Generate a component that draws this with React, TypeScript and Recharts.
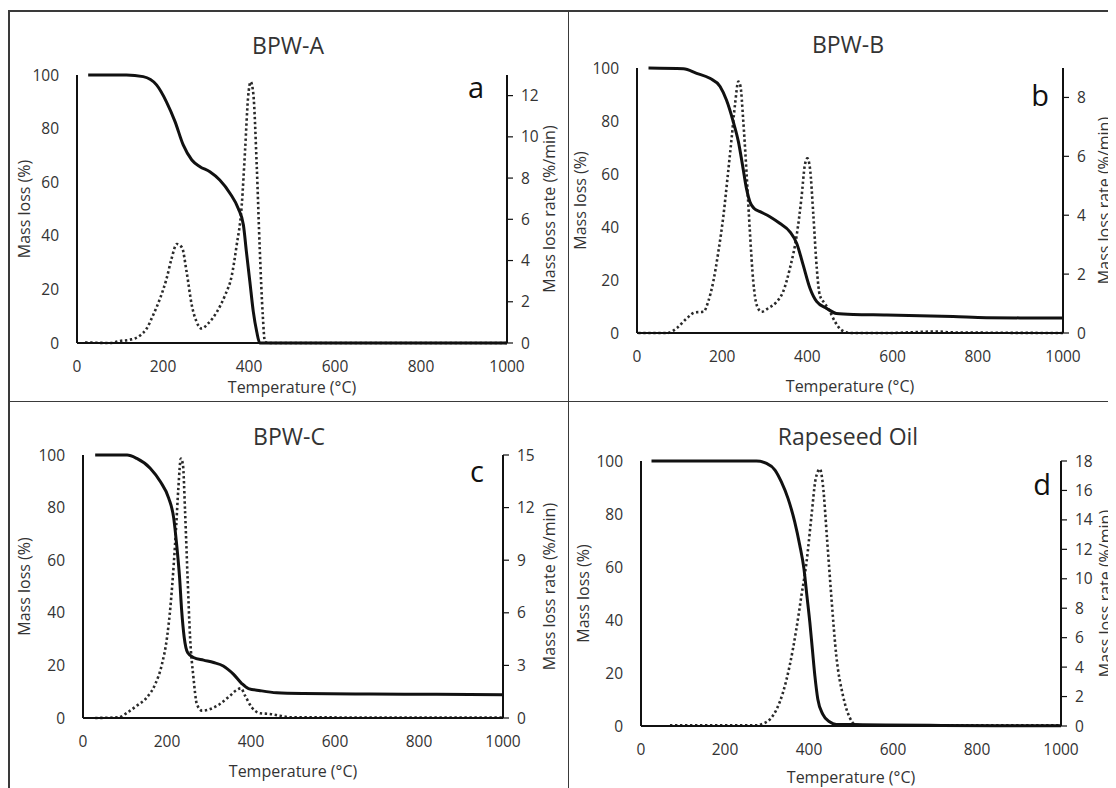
import React from 'react';
import { LineChart, Line, XAxis, YAxis } from 'recharts';

const FONT = '"Open Sans", "DejaVu Sans", sans-serif';
const TXT = '#333333';
const INK = '#111111';

const TEMP_TICKS = [0, 200, 400, 600, 800, 1000];
const MASS_TICKS = [0, 20, 40, 60, 80, 100];
const TITLES = ['BPW-A', 'BPW-B', 'BPW-C', 'Rapeseed Oil'];
const LETTERS = ['a', 'b', 'c', 'd'];
const X_LABEL = 'Temperature (°C)';
const Y_LEFT_LABEL = 'Mass loss (%)';
const Y_RIGHT_LABEL = 'Mass loss rate (%/min)';

const RATE_TICKS_A = [0, 2, 4, 6, 8, 10, 12];
const RATE_TICKS_B = [0, 2, 4, 6, 8];
const RATE_TICKS_C = [0, 3, 6, 9, 12, 15];
const RATE_TICKS_D = [0, 2, 4, 6, 8, 10, 12, 14, 16, 18];
const RATE_MAX = [13, 9, 15, 18];

// Panel a – BPW-A
const aTgTemp = [26, 115, 154, 185, 208, 228, 247, 267, 286, 309, 332, 356, 375, 387, 394, 402, 410, 418, 425, 500, 1000];
const aTgMass = [100, 100, 99.4, 96.3, 90, 82.6, 73.9, 68.3, 65.8, 63.9, 60.8, 55.8, 50.2, 44, 34, 22.9, 11.7, 4.2, 0, 0, 0];
const aDtgTemp = [19, 77, 100, 123, 146, 162, 177, 193, 208, 220, 232, 244, 255, 267, 278, 290, 305, 325, 344, 360, 371, 383, 391, 398, 404, 410, 418, 425, 432, 437, 445, 1000];
const aDtgRate = [0.03, 0, 0.1, 0.16, 0.35, 0.7, 1.35, 2.15, 3.1, 4.1, 4.8, 4.64, 3.44, 1.83, 1.03, 0.7, 0.95, 1.5, 2.3, 3.28, 4.7, 6.65, 9.4, 11.95, 12.67, 12.1, 8.6, 4.56, 1.35, 0.06, 0, 0];

// Panel b – BPW-B
const bTgTemp = [27, 109, 140, 171, 195, 210, 226, 238, 249, 257, 265, 275, 289, 312, 335, 359, 375, 390, 406, 422, 445, 468, 508, 586, 664, 742, 820, 899, 1000];
const bTgMass = [100, 99.7, 98, 96.1, 93, 87.9, 79.7, 72.2, 62.1, 54.5, 49.5, 47.0, 45.8, 43.9, 41.4, 38.2, 33.8, 25.7, 16.9, 11.8, 9.3, 7.4, 7.0, 6.8, 6.5, 6.2, 5.8, 5.7, 5.7];
const bDtgTemp = [3, 70, 93, 117, 136, 156, 167, 179, 191, 203, 214, 222, 230, 238, 243, 249, 257, 265, 273, 281, 292, 308, 328, 343, 359, 375, 386, 394, 400, 406, 414, 422, 429, 441, 453, 465, 480, 500, 586, 703, 742, 1000];
const bDtgRate = [0, 0, 0.16, 0.5, 0.7, 0.72, 1.06, 1.74, 2.76, 4.0, 5.48, 6.6, 7.75, 8.54, 8.37, 7.3, 5.48, 3.44, 1.74, 0.95, 0.72, 0.84, 1.06, 1.4, 2.2, 3.33, 4.58, 5.7, 5.93, 5.6, 4.0, 2.2, 1.29, 1.0, 0.72, 0.38, 0.1, 0, 0, 0.05, 0.02, 0];

// Panel c – BPW-C
const cTgTemp = [29, 105, 128, 160, 184, 204, 216, 223, 230, 235, 241, 249, 263, 287, 311, 334, 358, 378, 394, 422, 461, 525, 683, 841, 1000];
const cTgMass = [100, 100, 98.7, 95, 89.9, 83.6, 76, 65.9, 53.3, 40.7, 30.6, 24.9, 23, 22, 21.1, 19.8, 16.7, 13.1, 11.2, 10.4, 9.6, 9.3, 9.1, 9.0, 8.8];
const cDtgTemp = [29, 85, 105, 128, 152, 172, 188, 200, 208, 216, 222, 227, 233, 238, 243, 249, 255, 263, 271, 283, 303, 326, 350, 366, 376, 386, 402, 422, 445, 469, 493, 1000];
const cDtgRate = [0, 0.04, 0.3, 0.7, 1.17, 1.93, 3.07, 4.58, 6.3, 8.75, 11.0, 13.1, 14.8, 14.43, 11.8, 8.0, 4.58, 2.31, 0.8, 0.42, 0.51, 0.8, 1.27, 1.6, 1.69, 1.27, 0.6, 0.27, 0.23, 0.13, 0.04, 0.02];

// Panel d – Rapeseed Oil
const dTgTemp = [25, 275, 299, 319, 334, 350, 366, 378, 388, 395, 402, 408, 414, 421, 433, 449, 465, 528, 687, 846, 1000];
const dTgMass = [100, 100, 99.1, 96.6, 92.2, 85.9, 77, 68.2, 59.3, 49.2, 39.1, 29, 18.9, 10.1, 4.4, 1.6, 0.6, 0.5, 0.25, 0.1, 0.1];
const dDtgTemp = [69, 275, 291, 307, 323, 338, 354, 370, 382, 394, 406, 416, 426, 433, 443, 453, 465, 481, 497, 509, 528, 1000];
const dDtgRate = [0.05, 0.05, 0.16, 0.45, 1.14, 2.27, 4.1, 6.6, 8.86, 11.1, 14.3, 16.8, 17.45, 16.4, 12.7, 8.86, 4.77, 2.05, 0.57, 0.11, 0.05, 0.05];

const zip = (ts: number[], vs: number[]) => ts.map((t, i) => ({ t, v: vs[i] }));

const LW = 50;
const RW = 50;
const XH = 30;

type Geo = {
  left: number; top: number; w: number; h: number;
  pl: number; pr: number; pt: number; pb: number;
  title: [number, number]; letter: [number, number];
  xlab: number; ylx: number; yrx: number;
};

const GEO: Geo[] = [
  { left: 0, top: 3, w: 560, h: 390, pl: 69, pr: 499, pt: 64, pb: 332, title: [280, 43], letter: [468, 87], xlab: 382, ylx: 16, yrx: 541 },
  { left: 560, top: 3, w: 548, h: 390, pl: 69, pr: 495, pt: 57, pb: 322, title: [280, 42], letter: [472, 95], xlab: 381, ylx: 12, yrx: 536 },
  { left: 0, top: 393, w: 560, h: 387, pl: 75, pr: 495, pt: 54, pb: 317, title: [281, 44], letter: [469, 81], xlab: 376, ylx: 16, yrx: 541 },
  { left: 560, top: 393, w: 548, h: 387, pl: 73, pr: 493, pt: 60, pb: 325, title: [280, 44], letter: [474, 94], xlab: 382, ylx: 15, yrx: 537 },
];

const TG = [zip(aTgTemp, aTgMass), zip(bTgTemp, bTgMass), zip(cTgTemp, cTgMass), zip(dTgTemp, dTgMass)];
const DTG = [zip(aDtgTemp, aDtgRate), zip(bDtgTemp, bDtgRate), zip(cDtgTemp, cDtgRate), zip(dDtgTemp, dDtgRate)];
const RATE_TICKS = [RATE_TICKS_A, RATE_TICKS_B, RATE_TICKS_C, RATE_TICKS_D];

const tickStyle = { fontSize: 15.5, fill: TXT, fontFamily: FONT };

function Panel({ i }: { i: number }) {
  const g = GEO[i];
  const margin = {
    top: g.pt,
    left: g.pl - LW,
    right: g.w - g.pr - RW,
    bottom: g.h - g.pb - XH,
  };
  const cx = (g.pl + g.pr) / 2;
  const cy = (g.pt + g.pb) / 2;
  return (
    <div style={{ position: 'absolute', left: g.left, top: g.top }}>
      <LineChart width={g.w} height={g.h} margin={margin}>
        <XAxis
          type="number"
          dataKey="t"
          domain={[0, 1000]}
          ticks={TEMP_TICKS}
          interval={0}
          tickLine={false}
          axisLine={{ stroke: INK, strokeWidth: 2 }}
          tick={tickStyle}
          tickMargin={12}
          height={XH}
        />
        <YAxis
          yAxisId="m"
          type="number"
          domain={[0, 100]}
          ticks={MASS_TICKS}
          interval={0}
          tickLine={false}
          axisLine={{ stroke: INK, strokeWidth: 2 }}
          tick={tickStyle}
          tickMargin={12}
          width={LW}
        />
        <YAxis
          yAxisId="r"
          orientation="right"
          type="number"
          domain={[0, RATE_MAX[i]]}
          ticks={RATE_TICKS[i]}
          interval={0}
          tickLine={{ stroke: INK, strokeWidth: 1.2 }}
          tickSize={6}
          axisLine={{ stroke: INK, strokeWidth: 2 }}
          tick={{ ...tickStyle, textAnchor: 'start' }}
          tickMargin={8}
          width={RW}
        />
        <Line
          yAxisId="r"
          data={DTG[i]}
          dataKey="v"
          type="monotone"
          stroke="#2a2a2a"
          strokeWidth={2.6}
          strokeDasharray="2.4 2.6"
          dot={false}
          activeDot={false}
          isAnimationActive={false}
        />
        <Line
          yAxisId="m"
          data={TG[i]}
          dataKey="v"
          type="monotone"
          stroke={INK}
          strokeWidth={3}
          dot={false}
          activeDot={false}
          isAnimationActive={false}
        />
        <text x={g.title[0]} y={g.title[1]} textAnchor="middle" fontSize={23} fill={TXT} fontFamily={FONT}>
          {TITLES[i]}
        </text>
        <text x={g.letter[0]} y={g.letter[1]} textAnchor="middle" fontSize={29} fill={INK} fontFamily={FONT}>
          {LETTERS[i]}
        </text>
        <text x={cx} y={g.xlab} textAnchor="middle" fontSize={16} fill={TXT} fontFamily={FONT}>
          {X_LABEL}
        </text>
        <text
          x={g.ylx}
          y={cy}
          textAnchor="middle"
          dominantBaseline="central"
          transform={`rotate(-90 ${g.ylx} ${cy})`}
          fontSize={16}
          fill={TXT}
          fontFamily={FONT}
        >
          {Y_LEFT_LABEL}
        </text>
        <text
          x={g.yrx}
          y={cy}
          textAnchor="middle"
          dominantBaseline="central"
          transform={`rotate(-90 ${g.yrx} ${cy})`}
          fontSize={16}
          fill={TXT}
          fontFamily={FONT}
        >
          {Y_RIGHT_LABEL}
        </text>
      </LineChart>
    </div>
  );
}

const lineStyle = (l: number, t: number, w: number, h: number): React.CSSProperties => ({
  position: 'absolute', left: l, top: t, width: w, height: h, background: '#3a3a3a',
});

export default function App() {
  return (
    <div style={{ position: 'relative', width: 1108, height: 780, overflow: 'hidden', background: '#fff' }}>
      {[0, 1, 2, 3].map((i) => <Panel key={i} i={i} />)}
      <div style={lineStyle(0, 2, 1108, 1.5)} />
      <div style={lineStyle(0, 2, 1.5, 778)} />
      <div style={lineStyle(559.5, 2, 1.5, 778)} />
      <div style={lineStyle(0, 392.5, 1108, 1.5)} />
    </div>
  );
}
